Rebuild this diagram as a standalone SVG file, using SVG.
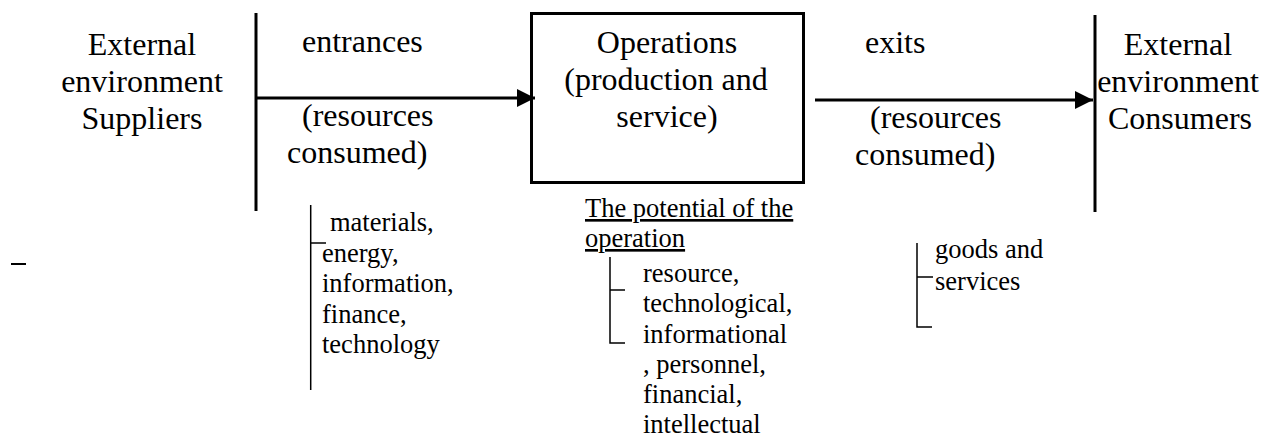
<svg xmlns="http://www.w3.org/2000/svg" width="1275" height="439" viewBox="0 0 1275 439" font-family="'Liberation Serif', 'Times New Roman', Times, serif">
<style>
text{font-family:"Liberation Serif","Times New Roman",Times,"DejaVu Serif",serif;fill:#000}
.big{font-size:32px}
.sm{font-size:26.5px}
.mid{text-anchor:middle}
.thick{stroke:#000;stroke-width:3;fill:none}
.thin{stroke:#000;stroke-width:1.5;fill:none}
</style>
<defs>
<marker id="ah" markerWidth="6" markerHeight="6" refX="6" refY="3" orient="auto" markerUnits="strokeWidth">
<path d="M0,0 L6,3 L0,6 Z" fill="#000"/>
</marker>
</defs>
<rect width="1275" height="439" fill="#fff"/>
<g id="suppliers">
<text class="big mid" x="142" y="55">External</text>
<text class="big mid" x="142" y="92">environment</text>
<text class="big mid" x="142" y="129">Suppliers</text>
<line class="thick" x1="256" y1="13" x2="256" y2="211"/>
</g>
<g id="entrances">
<text class="big" x="302" y="52">entrances</text>
<text class="big" x="302" y="126">(resources</text>
<text class="big" x="287" y="163">consumed)</text>
</g>
<g id="operations">
<rect class="thick" x="531.5" y="13.5" width="272" height="169"/>
<text class="big mid" x="667" y="53">Operations</text>
<text class="big mid" x="666" y="90">(production and</text>
<text class="big mid" x="667" y="127">service)</text>
</g>
<g id="exits">
<text class="big" x="865" y="53">exits</text>
<text class="big" x="870" y="128">(resources</text>
<text class="big" x="855" y="165">consumed)</text>
</g>
<g id="consumers">
<line class="thick" x1="1095" y1="15" x2="1095" y2="212"/>
<text class="big mid" x="1178" y="55">External</text>
<text class="big mid" x="1178" y="92">environment</text>
<text class="big mid" x="1180" y="129">Consumers</text>
</g>
<g id="resources-list">
<path class="thin" d="M310.7,205 V390 M310.7,243 H326"/>
<text class="sm" x="330" y="231">materials,</text>
<text class="sm" x="322" y="262">energy,</text>
<text class="sm" x="322" y="292">information,</text>
<text class="sm" x="322" y="323">finance,</text>
<text class="sm" x="322" y="353">technology</text>
</g>
<g id="potential">
<text class="sm" x="585" y="217" text-decoration="underline">The potential of the</text>
<text class="sm" x="585" y="247" text-decoration="underline">operation</text>
<path class="thin" d="M610,257 V343 H625 M610,290 H625"/>
<text class="sm" x="643" y="282">resource,</text>
<text class="sm" x="643" y="312">technological,</text>
<text class="sm" x="643" y="343">informational</text>
<text class="sm" x="643" y="373">, personnel,</text>
<text class="sm" x="643" y="403">financial,</text>
<text class="sm" x="643" y="433">intellectual</text>
</g>
<g id="goods">
<path class="thin" d="M917,243 V327 H932 M917,277 H933"/>
<text class="sm" x="935" y="258">goods and</text>
<text class="sm" x="935" y="290">services</text>
</g>
<g id="stray">
<line x1="11" y1="264" x2="26" y2="264" stroke="#000" stroke-width="2"/>
</g>
<g id="connectors">
<line class="thick" x1="256" y1="98" x2="535" y2="98" marker-end="url(#ah)"/>
<line class="thick" x1="815" y1="100" x2="1093" y2="100" marker-end="url(#ah)"/>
</g>
</svg>
